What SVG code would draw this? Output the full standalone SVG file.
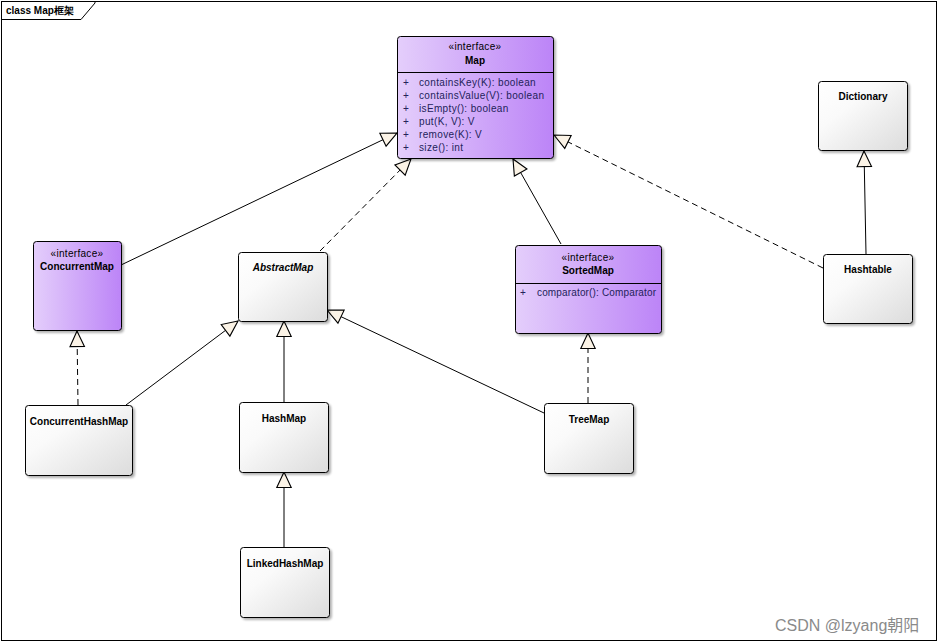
<svg xmlns="http://www.w3.org/2000/svg" width="938" height="643" viewBox="0 0 938 643">
<defs>
<linearGradient id="gi" x1="0" y1="0" x2="1" y2="0">
<stop offset="0" stop-color="#E4CEFB"/>
<stop offset="1" stop-color="#BC84F7"/>
</linearGradient>
<linearGradient id="gc" x1="0" y1="0" x2="1" y2="1">
<stop offset="0" stop-color="#FFFFFF"/>
<stop offset="0.35" stop-color="#FAFAFA"/>
<stop offset="1" stop-color="#DCDCDC"/>
</linearGradient>
<marker id="tri" markerUnits="userSpaceOnUse" markerWidth="20" markerHeight="20" viewBox="-16 -8 18 16" refX="0" refY="0" orient="auto">
<path d="M0,0 L-14,-6.5 L-14,6.5 Z" fill="#FBF3E6" stroke="#000" stroke-width="1"/>
</marker>
<filter id="sh" x="-10%" y="-10%" width="130%" height="130%">
<feGaussianBlur in="SourceAlpha" stdDeviation="1"/>
<feOffset dx="2" dy="2"/>
<feComponentTransfer><feFuncA type="linear" slope="0.3"/></feComponentTransfer>
<feMerge><feMergeNode/><feMergeNode in="SourceGraphic"/></feMerge>
</filter>
</defs>
<style>
text{font-family:"Liberation Sans",Arial,sans-serif;font-size:10px;fill:#000}
.n{font-weight:bold;text-anchor:middle}
.s{text-anchor:middle;letter-spacing:0.3px}
.a{fill:#23235A;letter-spacing:0.35px}
.box{stroke:#000;stroke-width:1;filter:url(#sh)}
.i{fill:url(#gi)}
.c{fill:url(#gc)}
.e{stroke:#000;stroke-width:1;fill:none;marker-end:url(#tri)}
.d{stroke-dasharray:6,4}
</style>
<rect x="0" y="0" width="938" height="643" fill="#fff"/>
<rect x="1.5" y="1.5" width="935" height="639" fill="none" stroke="#000"/>
<path d="M1.5,19.5 H81 L95,3 V1.5" fill="none" stroke="#000"/>
<text x="6" y="14" style="font-weight:bold;font-size:10px">class Map框架</text>

<g id="connectors">
<line class="e" x1="121" y1="265" x2="397" y2="133"/>
<line class="e d" x1="320" y1="251" x2="411" y2="159"/>
<line class="e" x1="561" y1="244" x2="513" y2="159"/>
<line class="e d" x1="823" y1="268" x2="554" y2="135"/>
<line class="e" x1="866" y1="254" x2="864" y2="151"/>
<line class="e d" x1="78" y1="405" x2="77" y2="331"/>
<line class="e" x1="126" y1="405" x2="238" y2="321"/>
<line class="e" x1="284" y1="402" x2="284" y2="321"/>
<line class="e" x1="544" y1="413" x2="327" y2="310"/>
<line class="e d" x1="588" y1="403" x2="588" y2="333"/>
<line class="e" x1="284" y1="547" x2="284" y2="472"/>
</g>

<g id="Map">
<rect class="box i" x="397.5" y="36.5" width="156" height="122" rx="3"/>
<line x1="397.5" y1="72.5" x2="553.5" y2="72.5" stroke="#000"/>
<text class="s" x="475" y="50">«interface»</text>
<text class="n" x="475" y="64">Map</text>
<text class="a" x="403" y="86">+</text><text class="a" x="419" y="86">containsKey(K): boolean</text>
<text class="a" x="403" y="99">+</text><text class="a" x="419" y="99">containsValue(V): boolean</text>
<text class="a" x="403" y="112">+</text><text class="a" x="419" y="112">isEmpty(): boolean</text>
<text class="a" x="403" y="125">+</text><text class="a" x="419" y="125">put(K, V): V</text>
<text class="a" x="403" y="138">+</text><text class="a" x="419" y="138">remove(K): V</text>
<text class="a" x="403" y="151">+</text><text class="a" x="419" y="151">size(): int</text>
</g>

<g id="Dictionary">
<rect class="box c" x="818.5" y="81.5" width="89" height="69" rx="3"/>
<text class="n" x="863" y="100">Dictionary</text>
</g>

<g id="Hashtable">
<rect class="box c" x="823.5" y="254.5" width="89" height="69" rx="3"/>
<text class="n" x="868" y="273">Hashtable</text>
</g>

<g id="ConcurrentMap">
<rect class="box i" x="33.5" y="241.5" width="88" height="89" rx="3"/>
<text class="s" x="77" y="257">«interface»</text>
<text class="n" x="77" y="270">ConcurrentMap</text>
</g>

<g id="AbstractMap">
<rect class="box c" x="238.5" y="252.5" width="89" height="69" rx="3"/>
<text class="n" x="283" y="271" style="font-style:italic">AbstractMap</text>
</g>

<g id="SortedMap">
<rect class="box i" x="515.5" y="245.5" width="146" height="88" rx="3"/>
<line x1="515.5" y1="283.5" x2="661.5" y2="283.5" stroke="#000"/>
<text class="s" x="588" y="261">«interface»</text>
<text class="n" x="588" y="274">SortedMap</text>
<text class="a" x="520" y="296">+</text><text class="a" x="537" y="296" style="letter-spacing:0.15px">comparator(): Comparator</text>
</g>

<g id="ConcurrentHashMap">
<rect class="box c" x="25.5" y="405.5" width="107" height="70" rx="3"/>
<text class="n" x="79" y="425">ConcurrentHashMap</text>
</g>

<g id="HashMap">
<rect class="box c" x="239.5" y="402.5" width="89" height="70" rx="3"/>
<text class="n" x="284" y="422">HashMap</text>
</g>

<g id="TreeMap">
<rect class="box c" x="544.5" y="403.5" width="89" height="70" rx="3"/>
<text class="n" x="589" y="423">TreeMap</text>
</g>

<g id="LinkedHashMap">
<rect class="box c" x="240.5" y="547.5" width="89" height="70" rx="3"/>
<text class="n" x="285" y="567">LinkedHashMap</text>
</g>

<text x="775" y="631" style="font-size:16px;fill:#8A8A8A;font-family:'Liberation Sans','Noto Sans CJK SC',sans-serif">CSDN @lzyang朝阳</text>
</svg>
